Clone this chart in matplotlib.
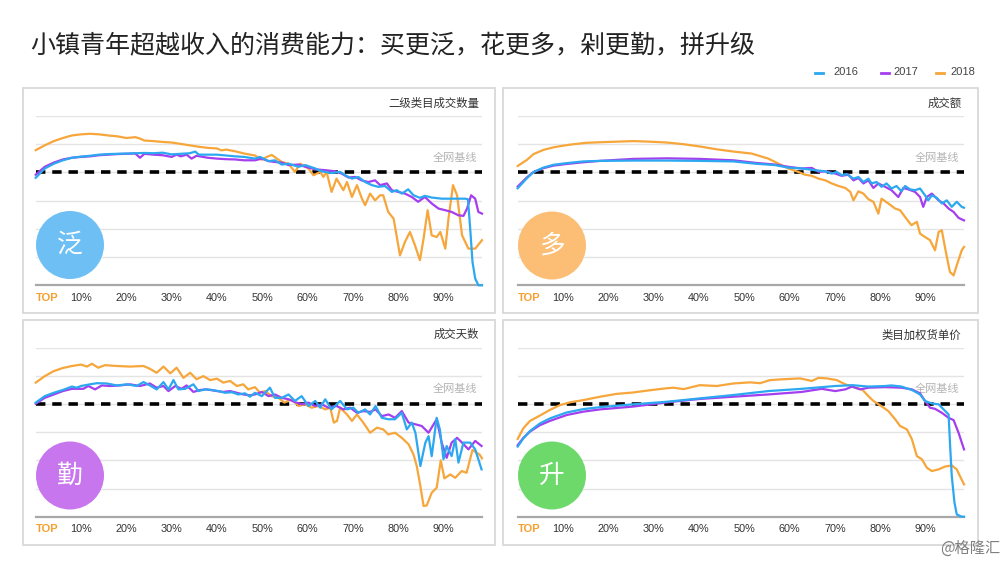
import matplotlib
matplotlib.use('Agg')
from matplotlib import pyplot as plt
from matplotlib.patches import Circle, Rectangle
from matplotlib.lines import Line2D

plt.rcParams['font.family'] = ['Noto Sans CJK SC', 'DejaVu Sans']

# chart text
title = '小镇青年超越收入的消费能力：买更泛，花更多，剁更勤，拼升级'
panel_titles = ['二级类目成交数量', '成交额', '成交天数', '类目加权货单价']
badges = ['泛', '多', '勤', '升']
years = ['2016', '2017', '2018']
tick_pos = [0, 10, 20, 30, 40, 50, 60, 70, 80, 90]
tick_labels = ['TOP', '10%', '20%', '30%', '40%', '50%', '60%', '70%', '80%', '90%']

# x = consumer percentile (TOP -> 98%), y = level, whole-net baseline at 4
# 泛 - second-level category count
fan_x_2016 = [0, 2, 4, 6, 8, 10, 12, 14, 16, 18, 20, 22, 24, 26, 28, 30, 32, 34, 35.2, 36,
              38, 40, 42, 44, 46, 48.4, 49.5, 51.4, 52.8, 54.3, 55.8, 58.0, 59.5, 61.7, 63.1, 65.3, 67.2, 68.3, 69.8, 71.2,
              72.7, 74.2, 75.6, 77.1, 78.6, 79.7, 80.8, 82.2, 83.4, 84.8, 85.9, 87.4, 89.6, 92.6, 94.8, 95.4, 95.9, 96.4, 97.0, 97.7,
              98.5]
fan_y_2016 = [3.81, 4.14, 4.31, 4.43, 4.52, 4.56, 4.59, 4.63, 4.65, 4.66, 4.67, 4.68, 4.69, 4.68, 4.70, 4.64, 4.66, 4.68, 4.74, 4.63,
              4.63, 4.63, 4.60, 4.57, 4.55, 4.49, 4.55, 4.40, 4.43, 4.28, 4.31, 4.20, 4.26, 4.14, 4.04, 3.98, 4.02, 3.90, 3.78, 3.84,
              3.66, 3.55, 3.49, 3.52, 3.31, 3.37, 3.25, 3.40, 3.19, 3.10, 3.17, 3.11, 3.07, 3.07, 3.07, 3.05, 2.00, 0.83, 0.24, 0.0,
              0.0]
fan_x_2017 = [0, 2, 4, 6, 8, 10, 12, 14, 16, 18, 20, 22, 23, 24, 26, 28, 30, 31.1, 32, 33.3,
              34.4, 35.5, 38, 40, 42, 44, 46, 48.4, 49.9, 51.4, 52.8, 54.3, 55.8, 58.0, 59.5, 61.7, 63.9,
              66.1, 67.5, 69.0, 70.5, 71.9, 73.4, 74.9, 76.0, 77.5, 78.6, 80.0, 81.5, 83.0, 84.4, 85.9, 87.4, 88.9, 90.4, 91.8, 93.3,
              94.4, 95.2, 96.1, 97.0, 97.7, 98.5]
fan_y_2017 = [3.92, 4.20, 4.35, 4.46, 4.52, 4.55, 4.57, 4.61, 4.63, 4.65, 4.66, 4.67, 4.52, 4.66, 4.63, 4.61, 4.55, 4.63, 4.57, 4.63,
              4.49, 4.59, 4.52, 4.49, 4.47, 4.46, 4.43, 4.43, 4.49, 4.40, 4.37, 4.35, 4.26, 4.28, 4.20, 4.11, 4.08,
              4.04, 3.96, 3.82, 3.84, 3.72, 3.66, 3.72, 3.55, 3.61, 3.37, 3.31, 3.25, 3.13, 2.96, 3.13, 2.90, 2.72, 2.66, 2.60, 2.48,
              2.46, 2.72, 3.19, 3.07, 2.60, 2.54]
fan_x_2018 = [0, 2, 4, 6, 8, 10, 12, 14, 16, 18, 20, 22, 23, 24, 26, 28, 30, 32, 34, 36,
              38, 40, 41, 42, 44, 46, 48.4, 49.9, 51.0, 52.1, 54.3, 55.8, 57.2, 58.4, 60.2, 61.3, 62.8, 63.5, 64.2, 65.3,
              66.4, 67.9, 68.7, 69.8, 70.9, 72.0, 72.7, 73.8, 74.9, 76.0, 76.7, 77.8, 79.0, 80.4, 81.5, 82.6, 83.7, 84.8, 85.6, 86.5,
              87.4, 88.5, 89.3, 90.4, 91.1, 92.1, 93.0, 94.1, 95.5, 97.0, 98.5]
fan_y_2018 = [4.79, 4.96, 5.11, 5.22, 5.31, 5.35, 5.37, 5.35, 5.31, 5.28, 5.22, 5.25, 5.20, 5.13, 5.11, 5.08, 5.06, 5.01, 4.96, 4.91,
              4.87, 4.85, 4.78, 4.81, 4.75, 4.67, 4.60, 4.45, 4.55, 4.62, 4.37, 4.31, 4.02, 4.31, 4.14, 3.90, 4.02, 3.84, 4.02, 3.31,
              3.78, 3.37, 3.66, 3.13, 3.55, 3.07, 2.84, 3.25, 3.01, 3.19, 3.19, 2.60, 2.36, 1.06, 1.54, 1.89, 1.42, 0.89, 1.65, 2.66,
              1.77, 1.71, 1.89, 1.30, 2.36, 3.55, 3.19, 1.77, 1.30, 1.30, 1.60]

# 多 - turnover
duo_x_2016 = [0, 2.0, 3.45, 5.66, 7.87, 10.8, 14.5, 18.2, 25.5, 32.9, 40.2, 47.6, 52.4, 56.8, 59.7, 62.7, 65.6, 67.8, 69.3, 70.4,
              71.5, 72.6, 74.1, 75.2, 76.3, 77.4, 78.1, 79.2, 80.3, 81.4, 82.5, 83.6, 84.7, 85.5, 86.6, 87.7, 88.8, 89.9, 90.6, 91.4,
              92.5, 93.6, 94.7, 95.8, 96.9, 98.0, 98.5]
duo_y_2016 = [3.44, 3.79, 4.01, 4.17, 4.27, 4.33, 4.39, 4.41, 4.42, 4.42, 4.41, 4.39, 4.31, 4.26, 4.17, 4.14, 4.08, 4.04, 3.96, 4.02,
              3.90, 3.94, 3.78, 3.84, 3.66, 3.78, 3.61, 3.66, 3.49, 3.61, 3.43, 3.52, 3.33, 3.52, 3.40, 3.37, 3.43, 3.19, 3.01, 3.19,
              3.10, 2.90, 3.01, 2.78, 2.96, 2.78, 2.75]
duo_x_2017 = [0, 2.0, 3.45, 5.66, 7.87, 10.8, 14.5, 18.2, 25.5, 32.9, 40.2, 47.6, 52.4, 56.8, 59.7, 62.7, 64.9, 66.4, 67.8, 70.1,
              71.5, 73.0, 74.1, 75.2, 76.3, 77.4, 78.5, 79.6, 81.1, 82.5, 84.0, 85.1, 86.2, 87.7, 88.8, 89.5, 90.3, 91.4, 92.9, 94.0,
              95.1, 96.2, 97.3, 98.5]
duo_y_2017 = [3.50, 3.82, 4.01, 4.15, 4.24, 4.30, 4.36, 4.41, 4.48, 4.50, 4.48, 4.43, 4.34, 4.28, 4.20, 4.14, 4.16, 4.02, 4.04, 3.96,
              3.88, 3.92, 3.72, 3.80, 3.61, 3.72, 3.45, 3.61, 3.49, 3.37, 3.13, 3.45, 3.40, 3.31, 3.13, 2.78, 3.13, 3.25, 3.01, 2.90,
              2.72, 2.60, 2.39, 2.30]
duo_x_2018 = [0, 2.0, 3.5, 5.7, 7.9, 10.1, 12.3, 15.2, 18.2, 21.8, 25.5, 29.2, 32.9, 36.6, 40.2, 43.9, 47.6, 51.6, 55.3, 57.6,
              59.7, 61.9, 63.4, 64.9, 66.4, 67.9, 69.3, 70.8, 72.3, 73.4, 74.1, 75.2, 76.3, 77.4, 78.5, 79.6, 80.3, 81.8, 83.3, 84.4,
              85.5, 86.9, 88.1, 88.8, 89.9, 91.0, 92.1, 92.9, 93.6, 94.5, 95.4, 96.2, 96.9, 98.0, 98.5]
duo_y_2018 = [4.23, 4.44, 4.65, 4.80, 4.89, 4.95, 5.00, 5.05, 5.07, 5.09, 5.11, 5.09, 5.06, 5.00, 4.92, 4.82, 4.74, 4.67, 4.49, 4.31,
              4.14, 4.02, 3.92, 3.88, 3.78, 3.72, 3.61, 3.52, 3.45, 3.31, 3.01, 3.33, 3.25, 3.05, 2.96, 2.54, 3.07, 2.90, 2.72, 2.66,
              2.42, 2.13, 2.25, 1.83, 1.71, 1.60, 1.24, 1.89, 1.95, 1.18, 0.47, 0.35, 0.71, 1.24, 1.36]

# 勤 - trading days
qin_x_2016 = [0, 2, 4, 6, 8, 9.05, 10, 12, 13.5, 15.7, 17.9, 20.1, 22.3, 23.8, 25.2, 26.7, 28.2, 29.3, 30.4, 31.5,
              33.0, 34.8, 35.9, 37.4, 38.9, 40.3, 41.8, 43.3, 44.7, 46.2, 47.3,
              48.4, 49.9, 51.7, 52.8, 54.3, 55.8, 57.2, 58.7, 60.2, 61.7, 62.8, 63.9, 65.3, 67.2, 68.7, 70.1, 71.2, 72.7, 73.8, 75.0,
              76.4, 77.8, 79.3, 80.8, 81.9, 83.0, 83.8, 84.9, 86.0, 86.7, 87.4, 88.5, 89.2, 90.0, 90.7, 91.8, 92.6, 93.3, 94.4, 95.9,
              97.0, 98.4]
qin_y_2016 = [4.05, 4.28, 4.40, 4.50, 4.62, 4.58, 4.64, 4.70, 4.74, 4.73, 4.66, 4.70, 4.64, 4.78, 4.66, 4.52, 4.78, 4.52, 4.85, 4.52,
              4.54, 4.70, 4.46, 4.52, 4.50, 4.46, 4.40, 4.42, 4.34, 4.38, 4.26,
              4.40, 4.28, 4.58, 4.22, 4.22, 4.34, 4.11, 4.28, 3.93, 4.11, 3.87, 4.17, 3.81, 4.11, 3.81, 3.87, 3.69, 3.81, 3.63, 3.93,
              3.51, 3.46, 3.46, 3.69, 3.10, 3.34, 2.98, 1.80, 2.63, 2.86, 2.15, 3.51, 3.10, 2.04, 2.51, 2.15, 2.75, 1.92, 2.63, 2.63,
              2.39, 1.68]
qin_x_2017 = [0, 2, 4, 6, 8, 10.5, 11.6, 13.1, 14.6, 16.4, 18.6, 20.8, 23.0, 25.2, 26.7, 28.2, 29.3, 30.8, 32.2, 33.3,
              34.8, 36.3, 37.7, 40.0, 41.4, 42.9, 44.4, 45.8, 47.3,
              48.4, 49.9, 51.4, 52.8, 54.3, 55.8, 57.2, 58.7, 60.2, 61.7, 63.1, 64.6, 66.4, 67.9, 69.4, 70.9, 72.3, 73.8, 75.0, 76.4,
              77.9, 79.3, 80.8, 82.3, 83.8, 85.2, 86.7, 88.5, 89.6, 90.7, 91.8, 93.0, 94.1, 95.5, 97.0, 98.4]
qin_y_2017 = [4.01, 4.22, 4.34, 4.46, 4.54, 4.54, 4.64, 4.52, 4.66, 4.64, 4.66, 4.70, 4.64, 4.73, 4.58, 4.64, 4.46, 4.64, 4.54, 4.66,
              4.43, 4.50, 4.52, 4.46, 4.43, 4.46, 4.40, 4.34, 4.31,
              4.34, 4.43, 4.28, 4.34, 4.22, 4.17, 4.07, 3.99, 4.05, 3.93, 3.99, 3.87, 3.93, 3.81, 3.87, 3.69, 3.75, 3.72, 3.81, 3.57,
              3.63, 3.51, 3.75, 3.34, 3.28, 3.22, 2.98, 3.46, 2.63, 2.09, 2.63, 2.80, 2.63, 2.39, 2.69, 2.51]
qin_x_2018 = [0, 2, 4, 6, 8, 10, 11.3, 12.4, 13.8, 15.3, 17.9, 20.8, 23.8, 25.2, 26.7, 28.2, 29.7, 31.1, 32.6, 34.1,
              35.5, 37.0, 38.5, 40.0, 41.4, 42.9, 44.4, 45.8, 46.9,
              48.4, 49.5, 50.6, 52.1, 53.6, 54.9, 56.5, 58.0, 59.5, 60.9, 62.4, 63.9, 65.0, 65.8, 66.5, 67.2, 68.7, 69.8, 70.9, 72.3,
              73.8, 75.3, 76.7, 77.8, 79.3, 80.8, 82.3, 83.4, 84.1, 84.9, 85.6, 86.3, 87.4, 88.5, 89.4, 90.2, 91.5, 92.6, 94.0, 95.1,
              96.4, 98.0, 98.5]
qin_y_2018 = [4.76, 4.99, 5.17, 5.28, 5.35, 5.40, 5.33, 5.43, 5.29, 5.38, 5.35, 5.33, 5.35, 5.25, 5.11, 5.33, 5.09, 5.29, 4.93, 5.11,
              4.88, 4.99, 4.85, 4.90, 4.76, 4.82, 4.64, 4.70, 4.52,
              4.60, 4.40, 4.46, 4.28, 4.22, 4.05, 4.17, 3.93, 3.99, 3.87, 3.93, 3.81, 3.87, 3.34, 3.40, 3.87, 3.63, 3.40, 3.63, 3.34,
              2.98, 3.16, 3.10, 2.92, 2.98, 2.80, 2.57, 2.20, 1.80, 1.09, 0.38, 0.40, 0.85, 1.03, 2.00, 1.36, 1.50, 1.38, 1.62, 1.56,
              2.37, 2.20, 2.07]

# 升 - weighted unit price
sheng_x_2016 = [0, 1.25, 2.7, 4.9, 7.1, 10.8, 14.5, 18.2, 25.5, 32.9, 40.2, 47.6, 55.3, 62.7, 70.1, 73.8, 77.4, 81.1, 82.5, 84.7,
                87.0, 88.8, 89.9, 91.4, 92.9, 94.0, 95.1, 95.4, 95.8, 96.4, 96.9, 98.0, 98.5]
sheng_y_2016 = [2.49, 2.78, 3.04, 3.31, 3.49, 3.70, 3.82, 3.89, 3.99, 4.08, 4.20, 4.32, 4.46, 4.54, 4.64, 4.67, 4.62, 4.64, 4.66, 4.62,
                4.50, 4.34, 4.11, 4.02, 3.99, 3.81, 3.63, 2.63, 1.44, 0.50, 0.08, 0.0, 0.0]
sheng_x_2017 = [0, 1.25, 2.7, 4.9, 7.1, 10.8, 14.5, 18.2, 25.5, 32.9, 40.2, 47.6, 55.3, 62.7, 67.1, 70.1, 72.3, 73.8, 75.6, 77.4,
                81.1, 84.7, 87.0, 88.8, 89.9, 91.0, 92.1, 93.6, 95.1, 96.2, 97.3, 98.5]
sheng_y_2017 = [2.54, 2.80, 3.02, 3.25, 3.40, 3.61, 3.73, 3.81, 3.91, 4.06, 4.18, 4.26, 4.34, 4.43, 4.54, 4.46, 4.52, 4.62, 4.52, 4.58,
                4.60, 4.58, 4.52, 4.38, 4.11, 3.87, 3.83, 3.69, 3.51, 3.43, 2.98, 2.39]
sheng_x_2018 = [0, 1.25, 2.7, 4.9, 7.1, 9.3, 11.5, 14.5, 18.2, 21.8, 25.5, 29.2, 32.9, 34.4, 36.6, 40.2, 43.9, 47.6, 51.3, 53.5,
                55.7, 58.6, 62.3, 64.9, 66.4, 68.2, 70.4, 72.3, 74.5, 76.0, 77.4, 78.5, 80.3, 81.8, 83.3, 84.4, 85.9, 87.0, 88.1, 89.2,
                90.3, 91.4, 92.9, 94.3, 95.8, 96.9, 97.6, 98.5]
sheng_y_2018 = [2.76, 3.14, 3.40, 3.59, 3.79, 3.96, 4.06, 4.14, 4.26, 4.36, 4.41, 4.49, 4.56, 4.58, 4.53, 4.67, 4.64, 4.73, 4.77, 4.74,
                4.85, 4.88, 4.91, 4.82, 4.93, 4.91, 4.85, 4.70, 4.58, 4.52, 4.28, 4.11, 3.92, 3.75, 3.46, 3.22, 3.10, 2.75, 2.15, 2.04,
                1.74, 1.62, 1.68, 1.78, 1.82, 1.68, 1.44, 1.15]

series = [
    [(fan_x_2016, fan_y_2016), (fan_x_2017, fan_y_2017), (fan_x_2018, fan_y_2018)],
    [(duo_x_2016, duo_y_2016), (duo_x_2017, duo_y_2017), (duo_x_2018, duo_y_2018)],
    [(qin_x_2016, qin_y_2016), (qin_x_2017, qin_y_2017), (qin_x_2018, qin_y_2018)],
    [(sheng_x_2016, sheng_y_2016), (sheng_x_2017, sheng_y_2017), (sheng_x_2018, sheng_y_2018)],
]

line_colors = ['#2CA8F1', '#A43EEF', '#F6A63A']
badge_colors = ['#6EC0F4', '#FBBE74', '#C876EE', '#6DD96B']

W, H = 1000, 561
fig = plt.figure(figsize=(W / 100, H / 100), dpi=100)
fig.patch.set_facecolor('white')

# plot areas and frames in pixels (left, top, right, bottom)
plot_boxes = [(35.7, 116, 482, 285.3), (517.7, 116, 964, 285.3),
              (35.7, 347.7, 482, 516.7), (517.7, 347.7, 964, 516.7)]
frames = [(23.3, 88.3, 495, 312.7), (503.5, 88.3, 977.5, 312.7),
          (23.3, 320, 495, 544.5), (503.5, 320, 977.5, 545)]
badge_centers = [(70, 245), (552, 245.5), (70, 475.5), (552, 475.5)]

for i in range(4):
    l, t, r, b = plot_boxes[i]
    ax = fig.add_axes([l / W, 1 - b / H, (r - l) / W, (b - t) / H])
    ax.set_xlim(0, 98.5)
    ax.set_ylim(0, 6)

    # grid and dashed baseline
    ax.set_yticks([0, 1, 2, 3, 4, 5, 6])
    ax.yaxis.grid(True, color='#e4e4e4', lw=1.0)
    ax.set_axisbelow(True)
    ax.tick_params(axis='y', length=0, labelleft=False)
    for s in ['top', 'left', 'right']:
        ax.spines[s].set_visible(False)
    ax.spines['bottom'].set_color('#a8a8a8')
    ax.spines['bottom'].set_linewidth(1.6)
    ax.axhline(4, color='black', lw=2.6, ls=(0, (2.6, 1.9)), zorder=2)

    # draw 2018 first so 2016 sits on top
    for k in [2, 1, 0]:
        xs, ys = series[i][k]
        ax.plot(xs, ys, color=line_colors[k], lw=1.6, zorder=3 + (2 - k), clip_on=False)

    # x labels
    ax.set_xticks(tick_pos)
    ax.set_xticklabels(tick_labels, fontfamily='Liberation Sans', fontsize=7.8, color='#333333')
    ax.tick_params(axis='x', length=0, pad=5.5)
    top_lab = ax.get_xticklabels()[0]
    top_lab.set_horizontalalignment('left')
    top_lab.set_color('#F7A030')
    top_lab.set_fontweight('bold')
    top_lab.set_fontsize(8)

    ax.text(97.9, 6.46, panel_titles[i], ha='right', va='center', fontsize=8.2,
            color='#333333', clip_on=False)
    ax.text(97.5, 4.53, '全网基线', ha='right', va='center', fontsize=8,
            color='#b4b4b4', zorder=1)

    # frame around panel
    fl, ft, fr, fb = frames[i]
    fig.add_artist(Rectangle((fl / W, 1 - fb / H), (fr - fl) / W, (fb - ft) / H,
                             transform=fig.transFigure, fill=False,
                             edgecolor='#d9d9d9', lw=1.3))

    # round badge
    cx, cy = badge_centers[i]
    fig.add_artist(Circle((cx / 100, (H - cy) / 100), 0.34, transform=fig.dpi_scale_trans,
                          facecolor=badge_colors[i], edgecolor='none', zorder=5))
    fig.text(cx / W, 1 - cy / H, badges[i], ha='center', va='center', fontsize=18.5,
             color='white', zorder=6)

# title
fig.text(30 / W, 1 - 46 / H, title, fontsize=18, va='center', color='#222222')

# legend
legend_x = [(815, 833), (881, 893), (936, 950)]
for (dx, tx), c, yr in zip(legend_x, line_colors, years):
    fig.add_artist(Line2D([dx / W, (dx + 8) / W], [1 - 72.5 / H, 1 - 72.5 / H],
                          transform=fig.transFigure, color=c, lw=2))
    fig.text(tx / W, 1 - 72 / H, yr, fontfamily='Liberation Sans', fontsize=8,
             va='center', color='#444444')

# watermark
fig.text(940 / W, 1 - 548 / H, '@格隆汇', fontsize=11, va='center', color='#808080')

plt.savefig('out.png', dpi=100)
